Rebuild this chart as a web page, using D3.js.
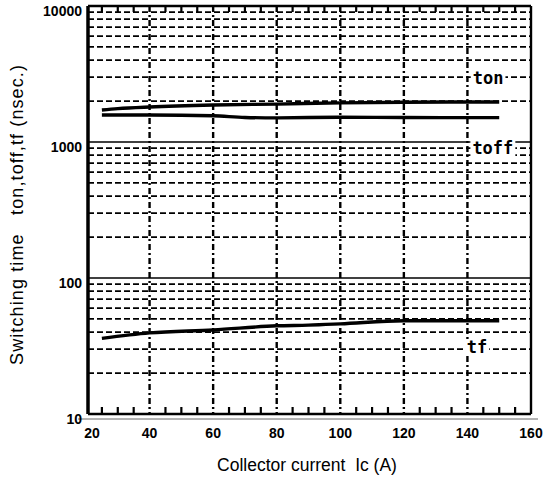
<!DOCTYPE html>
<html><head><meta charset="utf-8">
<script src="https://cdn.jsdelivr.net/npm/d3@7"></script>
<style>body{margin:0;background:#fff}svg{display:block}</style>
</head><body>
<svg id="c" width="544" height="479"></svg>
<script>
// ---- data ----
const xTicks = [20, 40, 60, 80, 100, 120, 140, 160];
const yTicks = [10, 100, 1000, 10000];
const xGrid = [40, 60, 80, 100, 120, 140];
const tonIc   = [25, 30, 40, 60, 80, 100, 120, 140, 150];
const tonVal  = [1720, 1760, 1810, 1870, 1900, 1940, 1960, 1970, 1970];
const toffIc  = [25, 40, 60, 70, 80, 100, 120, 140, 150];
const toffVal = [1580, 1580, 1560, 1515, 1505, 1520, 1515, 1510, 1510];
const tfIc    = [25, 40, 60, 80, 90, 100, 120, 140, 150];
const tfVal   = [36, 39.5, 41.5, 44.5, 45, 46, 48.5, 48.5, 48.5];
const seriesLabels = [
  {text: "ton", ic: 146.5, v: 2950},
  {text: "toff", ic: 148, v: 903},
  {text: "tf", ic: 143, v: 31}
];

const svg = d3.select("#c");
const x = d3.scaleLinear().domain([20, 160]).range([86, 531]);
const y = d3.scaleLog().domain([10, 10000]).range([414, 6]);
const L = 88, R = 531, T = 6, B = 414;

// minor horizontal gridlines
const minor = [];
[10, 100, 1000].forEach(d => { for (let k = 2; k <= 9; k++) minor.push(d * k); });
svg.append("g").selectAll("line").data(minor).join("line")
  .attr("x1", L).attr("x2", R).attr("y1", d => y(d)).attr("y2", d => y(d))
  .attr("stroke", "#000").attr("stroke-width", 1.8).attr("stroke-dasharray", "6,3");
// decade lines
svg.append("g").selectAll("line").data([100, 1000]).join("line")
  .attr("x1", L).attr("x2", R).attr("y1", d => y(d)).attr("y2", d => y(d))
  .attr("stroke", "#000").attr("stroke-width", 1.6);
// vertical gridlines
svg.append("g").selectAll("line").data(xGrid).join("line")
  .attr("x1", d => x(d)).attr("x2", d => x(d)).attr("y1", T).attr("y2", B)
  .attr("stroke", "#000").attr("stroke-width", 2.4).attr("stroke-dasharray", "6,3,2,3");

// minor ticks (every 5 A)
const minorX = d3.range(25, 160, 5).filter(d => d % 20 !== 0);
svg.append("g").selectAll("line").data(minorX).join("line")
  .attr("x1", d => x(d)).attr("x2", d => x(d)).attr("y1", B).attr("y2", B - 7)
  .attr("stroke", "#000").attr("stroke-width", 2.2);
svg.append("g").selectAll("line").data(minorX).join("line")
  .attr("x1", d => x(d)).attr("x2", d => x(d)).attr("y1", T).attr("y2", T + 6)
  .attr("stroke", "#000").attr("stroke-width", 2.2);

// frame
svg.append("line").attr("x1", L).attr("x2", L).attr("y1", T).attr("y2", B).attr("stroke", "#000").attr("stroke-width", 3.5);
svg.append("line").attr("x1", R).attr("x2", R).attr("y1", T).attr("y2", B).attr("stroke", "#000").attr("stroke-width", 2.4);
svg.append("line").attr("x1", L).attr("x2", R).attr("y1", T).attr("y2", T).attr("stroke", "#000").attr("stroke-width", 2.4);
svg.append("line").attr("x1", L).attr("x2", R).attr("y1", B).attr("y2", B).attr("stroke", "#000").attr("stroke-width", 2.4);

// curves
const line = d3.line().x(d => x(d[0])).y(d => y(d[1])).curve(d3.curveMonotoneX);
[[tonIc, tonVal], [toffIc, toffVal], [tfIc, tfVal]].forEach(([a, b]) => {
  svg.append("path").datum(a.map((d, i) => [d, b[i]])).attr("d", line)
    .attr("fill", "none").attr("stroke", "#000").attr("stroke-width", 3.4);
});

// series labels
const lbl = svg.append("g");
seriesLabels.forEach(s => {
  const t = lbl.append("text").attr("x", x(s.ic)).attr("y", y(s.v))
    .attr("text-anchor", "middle").attr("dominant-baseline", "central")
    .attr("font-family", "DejaVu Sans Mono").attr("font-weight", "bold")
    .attr("font-size", 17).text(s.text);
  const bb = t.node().getBBox();
  lbl.insert("rect", "text").attr("x", bb.x - 2).attr("y", bb.y + 2)
    .attr("width", bb.width + 4).attr("height", bb.height - 4).attr("fill", "#fff");
});

// base axis line (thin grey)
svg.append("line").attr("x1", 78).attr("x2", 538).attr("y1", 419).attr("y2", 419)
  .attr("stroke", "#666").attr("stroke-width", 1);

// tick labels
svg.append("g").selectAll("text").data(yTicks).join("text")
  .attr("x", 82).attr("y", d => y(d) + 10).attr("text-anchor", "end")
  .attr("font-family", "Liberation Sans, Arial").attr("font-weight", "bold")
  .attr("font-size", 14).text(d => d);
svg.append("g").selectAll("text").data(xTicks).join("text")
  .attr("x", d => d === 20 ? x(d) + 6 : x(d)).attr("y", 438).attr("text-anchor", "middle")
  .attr("font-family", "Liberation Sans, Arial").attr("font-weight", "bold")
  .attr("font-size", 14).text(d => d);

// axis titles
svg.append("text").attr("x", 307).attr("y", 471).attr("text-anchor", "middle")
  .attr("font-family", "Liberation Sans, Arial").attr("font-size", 17.5)
  .text("Collector current\u00a0\u00a0Ic (A)");
svg.append("text").attr("transform", "translate(23,215) rotate(-90)").attr("text-anchor", "middle")
  .attr("font-family", "Liberation Sans, Arial").attr("font-size", 18)
  .attr("textLength", 300).attr("lengthAdjust", "spacing")
  .text("Switching time\u00a0\u00a0\u00a0ton,toff,tf (nsec.)");
</script>
</body></html>
